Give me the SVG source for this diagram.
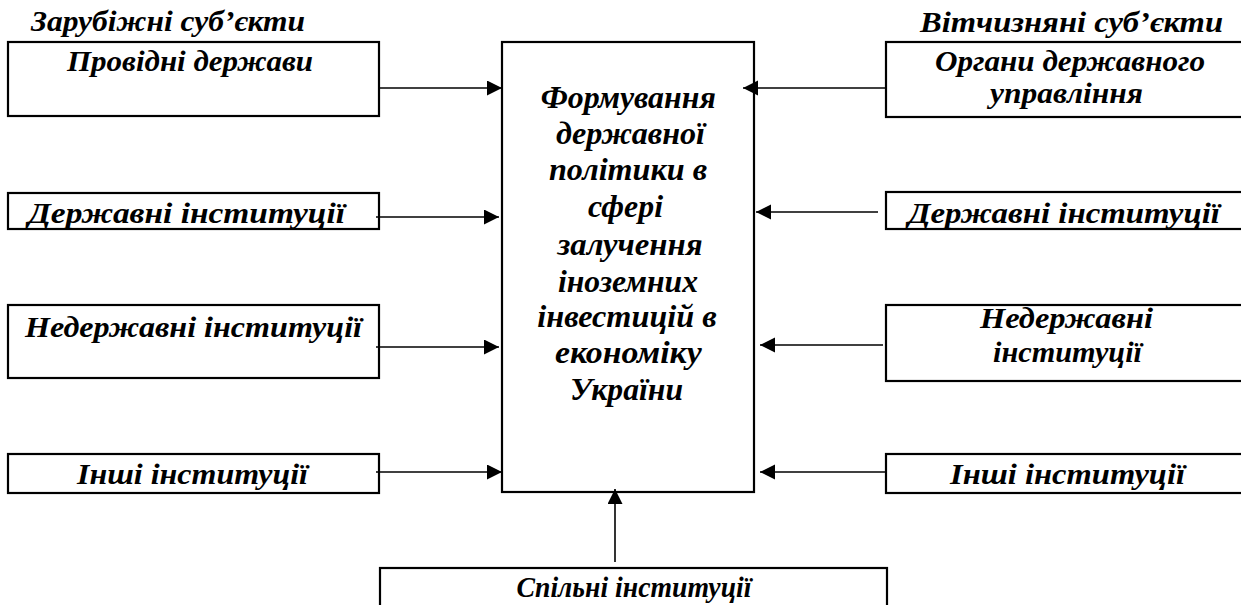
<svg xmlns="http://www.w3.org/2000/svg" width="1241" height="605" viewBox="0 0 1241 605">
<defs>
<marker id="ah" markerUnits="userSpaceOnUse" markerWidth="16" markerHeight="16" refX="15" refY="7.5" orient="auto">
<path d="M0,0 L15,7.5 L0,15 z" fill="#000"/>
</marker>
<style>
.box{fill:#fff;stroke:#000;stroke-width:2.2}
.t{font-family:"Liberation Serif","Times New Roman",serif;font-weight:bold;font-style:italic;font-size:29px;fill:#000;text-anchor:middle}
.c{font-size:31px}
.e{stroke:#000;stroke-width:1.6;fill:none;marker-end:url(#ah)}
</style>
</defs>
<rect width="1241" height="605" fill="#fff"/>
<g id="headings">
<text class="t" x="168" y="31" textLength="274" lengthAdjust="spacingAndGlyphs">Зарубіжні суб’єкти</text>
<text class="t" x="1071.5" y="31.5" textLength="303" lengthAdjust="spacingAndGlyphs">Вітчизняні суб’єкти</text>
</g>
<g id="center">
<rect class="box" x="502" y="42" width="252" height="450"/>
<text class="t c" x="628.3" y="107.7" textLength="175" lengthAdjust="spacingAndGlyphs">Формування</text>
<text class="t c" x="630.5" y="144.3" textLength="149" lengthAdjust="spacingAndGlyphs">державної</text>
<text class="t c" x="628" y="180" textLength="158" lengthAdjust="spacingAndGlyphs">політики в</text>
<text class="t c" x="625.5" y="216.7" textLength="75" lengthAdjust="spacingAndGlyphs">сфері</text>
<text class="t c" x="630" y="255" textLength="145" lengthAdjust="spacingAndGlyphs">залучення</text>
<text class="t c" x="628" y="291.7" textLength="140" lengthAdjust="spacingAndGlyphs">іноземних</text>
<text class="t c" x="627" y="327.3" textLength="179.5" lengthAdjust="spacingAndGlyphs">інвестицій в</text>
<text class="t c" x="628.3" y="363.3" textLength="146.7" lengthAdjust="spacingAndGlyphs">економіку</text>
<text class="t c" x="626.5" y="400" textLength="113" lengthAdjust="spacingAndGlyphs">України</text>
</g>
<g id="l1"><rect class="box" x="8" y="42" width="371" height="74"/><text class="t" x="190" y="70.7" textLength="246" lengthAdjust="spacingAndGlyphs">Провідні держави</text></g>
<g id="l2"><rect class="box" x="8" y="193" width="371" height="36"/><text class="t" x="186.5" y="222.5" textLength="317" lengthAdjust="spacingAndGlyphs">Державні інституції</text></g>
<g id="l3"><rect class="box" x="8" y="305" width="371" height="73"/><text class="t" x="193.5" y="337" textLength="337" lengthAdjust="spacingAndGlyphs">Недержавні інституції</text></g>
<g id="l4"><rect class="box" x="8" y="454" width="371" height="39"/><text class="t" x="192.5" y="484" textLength="231" lengthAdjust="spacingAndGlyphs">Інші інституції</text></g>
<g id="r1"><rect class="box" x="886" y="42" width="360" height="75"/><text class="t" x="1070" y="70.7" textLength="270" lengthAdjust="spacingAndGlyphs">Органи державного</text><text class="t" x="1066.5" y="102.7" textLength="153" lengthAdjust="spacingAndGlyphs">управління</text></g>
<g id="r2"><rect class="box" x="886" y="192" width="360" height="37"/><text class="t" x="1064" y="222.7" textLength="312" lengthAdjust="spacingAndGlyphs">Державні інституції</text></g>
<g id="r3"><rect class="box" x="886" y="305" width="360" height="76"/><text class="t" x="1066.5" y="328" textLength="173" lengthAdjust="spacingAndGlyphs">Недержавні</text><text class="t" x="1067.5" y="362" textLength="149" lengthAdjust="spacingAndGlyphs">інституції</text></g>
<g id="r4"><rect class="box" x="886" y="454" width="360" height="39"/><text class="t" x="1067.5" y="484" textLength="235" lengthAdjust="spacingAndGlyphs">Інші інституції</text></g>
<g id="bottom"><rect class="box" x="380" y="568" width="507" height="45"/><text class="t" x="634" y="597" textLength="235" lengthAdjust="spacingAndGlyphs">Спільні інституції</text></g>
<g id="connectors">
<line class="e" x1="379" y1="88" x2="502" y2="88"/>
<line class="e" x1="376" y1="217" x2="499" y2="217"/>
<line class="e" x1="376" y1="347" x2="499" y2="347"/>
<line class="e" x1="376" y1="472" x2="502" y2="472"/>
<line class="e" x1="886" y1="88" x2="743" y2="88"/>
<line class="e" x1="878" y1="212" x2="756" y2="212"/>
<line class="e" x1="883" y1="345" x2="760" y2="345"/>
<line class="e" x1="886" y1="472" x2="760" y2="472"/>
<line class="e" x1="615" y1="562" x2="615" y2="489"/>
</g>
</svg>
